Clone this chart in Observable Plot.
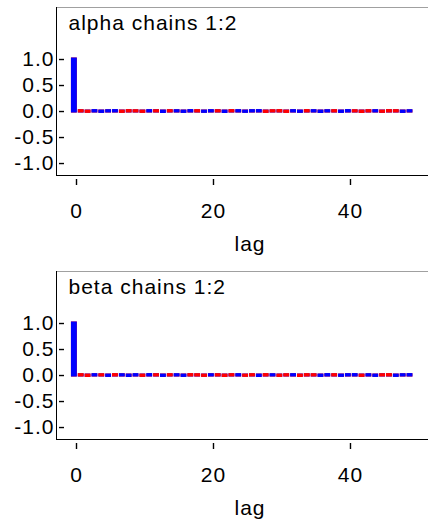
<!DOCTYPE html>
<html><head><meta charset="utf-8">
<script src="https://cdn.jsdelivr.net/npm/d3@7"></script>
<script src="https://cdn.jsdelivr.net/npm/@observablehq/plot@0.6"></script>
<style>
html,body{margin:0;padding:0;background:#fff;overflow:hidden}
#chart svg{display:block}
</style></head><body><div id="chart"></div>
<script>
// ---- data ----
const lags = [0,1,2,3,4,5,6,7,8,9,10,11,12,13,14,15,16,17,18,19,20,21,22,23,24,25,26,27,28,29,30,31,32,33,34,35,36,37,38,39,40,41,42,43,44,45,46,47,48,49];
const xTicks = [0, 20, 40];
const xTickLabels = ["0", "20", "40"];
const yTicks = [1, 0.5, 0, -0.5, -1];
const yTickLabels = ["1.0", "0.5", "0.0", "-0.5", "-1.0"];
const titles = ["alpha chains 1:2", "beta chains 1:2"];
const xLabel = "lag";
const chainNames = ["chain 1", "chain 2"];
const chainColors = ["#ff0000", "#0000ff"];

// autocorrelation per lag, chain 1 (red) and chain 2 (blue)
const alphaChain1 = [1.0,0.008,-0.007,0.003,-0.002,0.004,0.002,-0.008,0.009,0.007,-0.008,0.003,0.007,-0.002,0.008,0.004,-0.003,0.002,0.008,-0.003,0.002,0.007,-0.003,0.009,0.004,-0.002,0.003,0.002,-0.008,0.007,0.009,-0.008,0.003,-0.004,0.009,0.002,-0.003,0.004,0.008,-0.002,0.003,0.007,-0.009,0.008,0.003,-0.007,0.009,0.008,-0.003,0.002];
const alphaChain2 = [1.0,0.003,-0.002,0.009,-0.008,0.007,0.009,-0.003,0.004,0.002,-0.003,0.008,0.006,-0.009,0.003,0.007,-0.008,0.009,0.004,-0.007,0.008,0.006,-0.009,0.003,0.008,-0.007,0.008,0.009,-0.004,0.002,0.003,-0.002,0.008,-0.007,0.003,0.008,-0.009,0.007,0.003,-0.008,0.009,0.002,-0.004,0.003,0.008,-0.006,0.003,0.004,-0.008,0.007];
const betaChain1 = [1.0,0.008,-0.009,0.003,0.007,-0.002,0.009,0.004,-0.003,0.002,-0.008,0.003,0.007,-0.004,0.008,0.003,-0.002,0.009,0.007,-0.008,0.006,0.007,-0.009,0.008,0.003,-0.007,0.008,-0.004,0.009,0.002,-0.008,0.007,0.003,-0.009,0.008,0.007,-0.003,0.002,0.008,-0.004,0.003,0.002,-0.008,0.004,-0.003,0.007,0.009,-0.002,0.003,0.004];
const betaChain2 = [1.0,0.003,-0.004,0.008,0.002,-0.008,0.003,0.007,-0.009,0.008,-0.003,0.009,0.006,-0.008,0.002,0.007,-0.008,0.004,0.003,-0.002,0.007,0.006,-0.003,0.004,0.008,-0.002,0.003,-0.009,0.003,0.007,-0.004,0.003,0.008,-0.002,0.004,0.003,-0.008,0.009,0.003,-0.007,0.008,0.009,-0.003,0.007,-0.008,0.006,0.003,-0.008,0.007,0.009];

// ---- layout / style ----
const FONT = "'Liberation Sans', Arial, sans-serif";
const W = 428, ML = 56, MT = 7, FRAME_BOTTOM = 175;
const xDomain = [-2.92, 51.39];
const yDomain = [-1.23, 2.0];
const pxX = (xDomain[1] - xDomain[0]) / (W - ML);          // data units per pixel (x)
const pxY = (yDomain[1] - yDomain[0]) / (FRAME_BOTTOM - MT); // data units per pixel (y)

function panel(title, c1, c2, height) {
  const rows = [];
  lags.forEach((lag, i) => {
    rows.push({lag, chain: chainNames[0], v: c1[i]});
    rows.push({lag, chain: chainNames[1], v: c2[i]});
  });
  // larger magnitude drawn last (on top)
  rows.sort((a, b) => Math.abs(a.v) - Math.abs(b.v));
  return Plot.plot({
    width: W,
    height,
    marginLeft: ML,
    marginRight: 0,
    marginTop: MT,
    marginBottom: height - FRAME_BOTTOM,
    style: {fontFamily: FONT, fontSize: "21px", letterSpacing: "1px", color: "black", background: "white", overflow: "visible"},
    x: {domain: xDomain, axis: null},
    y: {domain: yDomain, axis: null},
    color: {domain: chainNames, range: chainColors},
    marks: [
      Plot.rectY(rows, {x1: d => d.lag - 0.52, x2: d => d.lag - 0.1, y1: 0, y2: "v", fill: "chain", stroke: "chain", strokeWidth: 3}),
      Plot.ruleY([yDomain[1]], {stroke: "#a0a0a0"}),
      Plot.ruleY([yDomain[0]], {stroke: "black"}),
      Plot.ruleX([xDomain[0]], {stroke: "black"}),
      // y ticks: inside the frame, pointing right (about 3..8 px right of the frame)
      Plot.ruleY(yTicks, {y: d => d, x1: xDomain[0] + 3 * pxX, x2: xDomain[0] + 8 * pxX, stroke: "black", strokeWidth: 1.4}),
      Plot.axisY(yTicks, {anchor: "left", tickSize: 0, tickPadding: 2, fill: "black", tickFormat: d => yTickLabels[yTicks.indexOf(d)], label: null}),
      // x ticks: below the frame with a small gap (about 4..10 px below)
      Plot.ruleX(xTicks, {x: d => d, y1: yDomain[0] - 4 * pxY, y2: yDomain[0] - 10 * pxY, stroke: "black", strokeWidth: 1.4}),
      Plot.axisX(xTicks, {anchor: "bottom", tickSize: 0, tickPadding: 28, fill: "black", tickFormat: d => xTickLabels[xTicks.indexOf(d)], label: null}),
      Plot.text([title], {frameAnchor: "top-left", textAnchor: "start", lineAnchor: "top", dx: 12, dy: 8, fill: "black"}),
      Plot.text([xLabel], {frameAnchor: "bottom", lineAnchor: "top", dx: 7.5, dy: 61, fill: "black"})
    ]
  });
}

const root = document.getElementById("chart");
root.appendChild(panel(titles[0], alphaChain1, alphaChain2, 264));
root.appendChild(panel(titles[1], betaChain1, betaChain2, 256));
</script>
</body></html>
